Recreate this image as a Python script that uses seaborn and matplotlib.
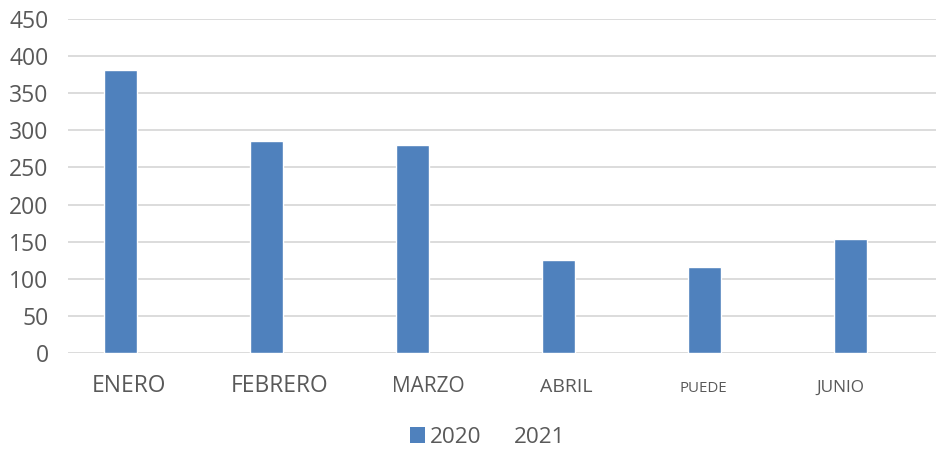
import matplotlib
matplotlib.use("Agg")
import matplotlib.pyplot as plt
import matplotlib.transforms as mtransforms
from matplotlib.patches import Patch
import seaborn as sns
import pandas as pd
import numpy as np

# ---- data ----
months = ["ENERO", "FEBRERO", "MARZO", "ABRIL", "PUEDE", "JUNIO"]
values_2020 = [381, 286, 280, 125, 116, 154]
values_2021 = [np.nan, np.nan, np.nan, np.nan, np.nan, np.nan]
years = ["2020", "2021"]
y_ticks = [0, 50, 100, 150, 200, 250, 300, 350, 400, 450]

# styling for month labels (sizes vary as in the original)
label_sizes = [16.4, 16.4, 15, 14, 10.8, 12.4]
label_dx_px = [-8, -3, -1, -9, -18, -27]

df = pd.DataFrame({
    "mes": months * 2,
    "año": [years[0]] * len(months) + [years[1]] * len(months),
    "valor": values_2020 + values_2021,
})

sns.set_theme(style="white")
plt.rcParams["font.family"] = ["Open Sans", "DejaVu Sans"]

text_color = "#595959"
bar_color = "#4F81BD"

fig = plt.figure(figsize=(9.36, 4.51), dpi=100)
ax = fig.add_axes([68 / 936, 1 - 353 / 451, 868 / 936, (353 - 19) / 451])

sns.barplot(data=df, x="mes", y="valor", hue="año", order=months,
            hue_order=years, palette=[bar_color, "#FFFFFF"],
            width=0.45, gap=0, errorbar=None, saturation=1,
            legend=False, ax=ax, zorder=3)

ax.set_ylim(0, 450)
ax.set_yticks(y_ticks)
ax.set_xlim(-0.473, 5.473)
ax.yaxis.grid(True, color="#D9D9D9", linewidth=1.3, zorder=0)
ax.set_axisbelow(True)
for s in ax.spines.values():
    s.set_visible(False)
ax.set_xlabel("")
ax.set_ylabel("")

ax.tick_params(axis="y", length=0, pad=14, labelsize=16.5, labelcolor=text_color)
ax.tick_params(axis="x", length=0, pad=28, labelcolor=text_color)

ax.set_xticks(range(len(months)))
ax.set_xticklabels(months)
for lbl, size, dx in zip(ax.get_xticklabels(), label_sizes, label_dx_px):
    lbl.set_fontsize(size)
    lbl.set_verticalalignment("baseline")
    lbl.set_transform(lbl.get_transform() +
                      mtransforms.ScaledTranslation(dx / 100, 0, fig.dpi_scale_trans))

handles = [Patch(facecolor=bar_color, edgecolor="none"),
           Patch(facecolor="none", edgecolor="none")]
fig.legend(handles, years, loc="center", bbox_to_anchor=(0.521, 0.031),
           ncol=2, frameon=False, fontsize=16.2, labelcolor=text_color,
           handlelength=0.7, handleheight=0.7, handletextpad=0.18,
           columnspacing=0.6)

fig.savefig("out.png", dpi=100)
